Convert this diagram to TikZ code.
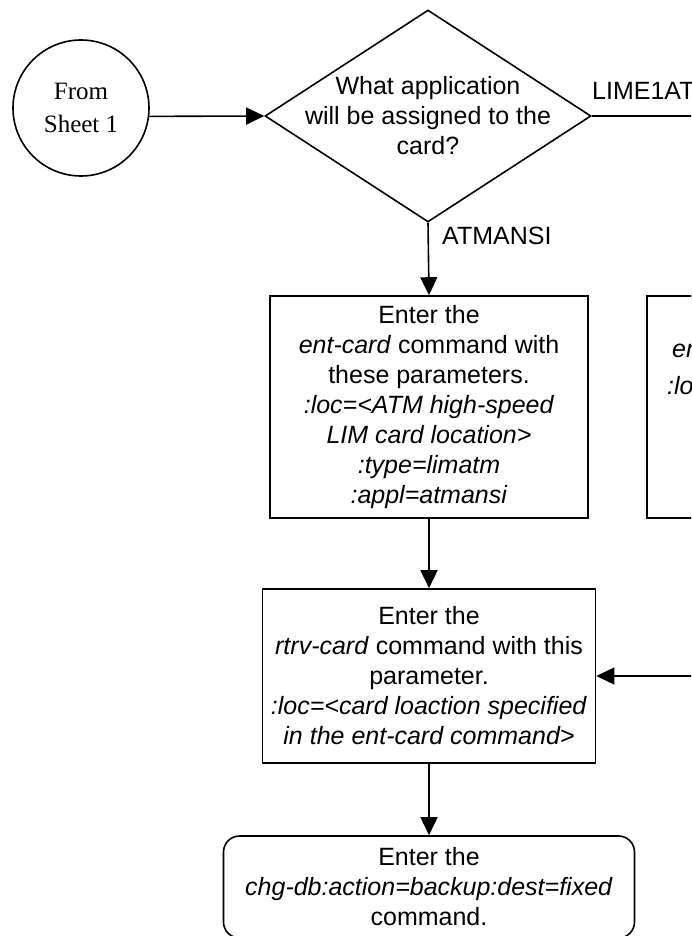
\documentclass[tikz,border=0pt]{standalone}
\usepackage{fontspec}
\setmainfont{Liberation Sans}
\newfontfamily\sheetfont{Liberation Serif}
\usetikzlibrary{arrows.meta, positioning, shapes.geometric}

\begin{document}
\begin{tikzpicture}[
      x=1pt, y=-1pt,
      every node/.style={font=\fontsize{25}{30}\selectfont},
      stage/.style={draw, line width=1.6pt, align=center, inner sep=0pt},
      decision/.style={draw, diamond, line width=1.6pt, minimum width=326pt,
        minimum height=212pt, inner sep=0pt},
      offpage/.style={draw, circle, line width=1.6pt, minimum size=136pt,
        align=center, inner sep=0pt, font=\sheetfont\fontsize{25}{33}\selectfont},
      branch/.style={anchor=base west, inner sep=0pt},
      flow/.style={line width=1.6pt},
      >={Triangle[length=18pt, width=17pt]}
    ]
      \useasboundingbox (0,0) rectangle (691,936);
      \clip (0,0) rectangle (691,936);
      \node[offpage] (sheet1) at (81,108) {From\\Sheet 1};
      \node[decision] (appl) at (428,116) {};
      \node[align=center] (applq) at (appl.center)
        {What application\\will be assigned to the\\card?};
      \node[stage, minimum width=318pt, minimum height=222pt] (atmcard) at (429,407)
        {Enter the\\\textit{ent-card} command with\\these parameters.\\
         \textit{:loc=<ATM high-speed}\\\textit{LIM card location>}\\
         \textit{:type=limatm}\\\textit{:appl=atmansi}};
      \node[stage, minimum width=318pt, minimum height=222pt] (e1card) at (806,407) {};
      \node[branch] (e1cmd) at (672,357) {\textit{en}};
      \node[branch] (e1loc) at (667,394) {\textit{:lo}};
      \node[stage, minimum width=333pt, minimum height=174pt] (rtrv) at (429,676)
        {Enter the\\\textit{rtrv-card} command with this\\parameter.\\
         \textit{:loc=<card loaction specified}\\\textit{in the ent-card command>}};
      \node[stage, rounded corners=16pt, minimum width=411pt, minimum height=102pt]
        (backup) at (429,887)
        {Enter the\\\textit{chg-db:action=backup:dest=fixed}\\command.};
      \coordinate (limeend) at (720,116);
      \coordinate (rejoin) at (720,676);
      \node[branch] (limelabel) at (592,100) {LIME1AT};
      \node[branch] (atmlabel) at (442,244) {ATMANSI};
      \draw[->, flow] (sheet1.-7) -- (appl.west);
      \draw[flow] (appl.east) -- (limeend);
      \draw[->, flow] (appl.south) -- (atmcard.north);
      \draw[->, flow] (atmcard) -- (rtrv);
      \draw[->, flow] (rejoin) -- (rtrv.east);
      \draw[->, flow] (rtrv) -- (backup);
    \end{tikzpicture}
\end{document}
